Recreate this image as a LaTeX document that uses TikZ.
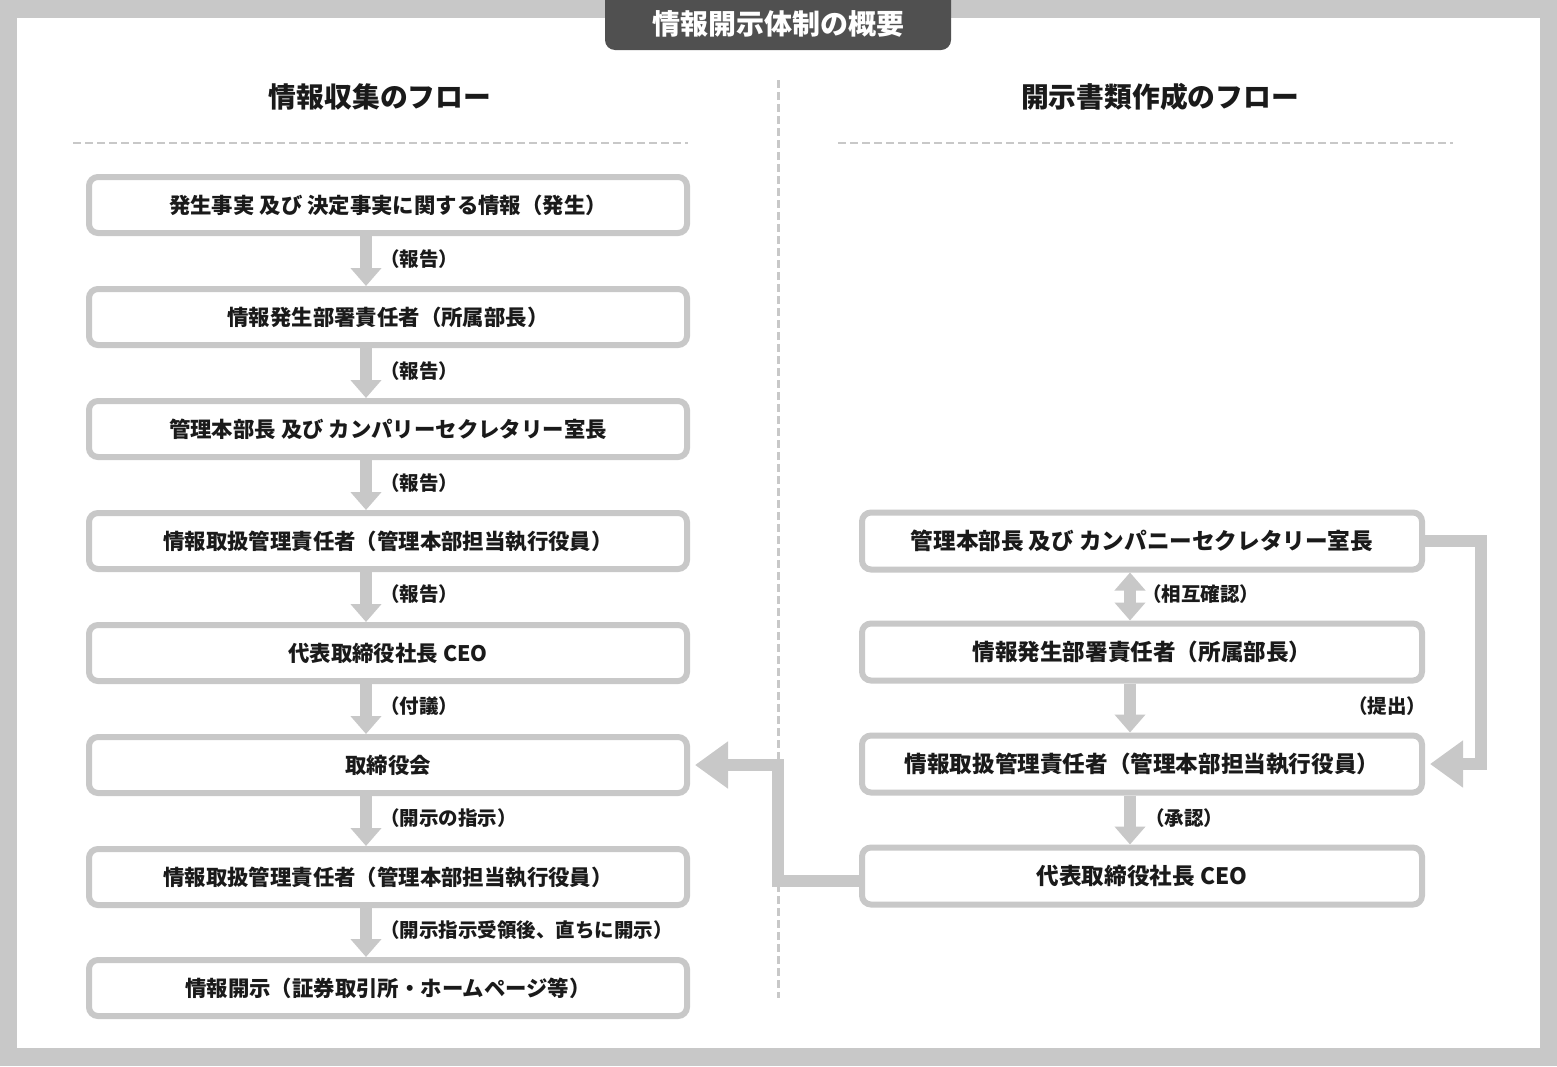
\documentclass[tikz,border=0pt]{standalone}
\usepackage{fontspec}
\setmainfont{Noto Sans CJK JP}
\usetikzlibrary{arrows.meta}
\definecolor{frame}{HTML}{C8C8C8}
\definecolor{tabc}{HTML}{505050}
\definecolor{ink}{HTML}{1A1A1A}
\tikzset{
  lbox/.style={draw=frame, line width=6pt, rounded corners=9pt, fill=white,
    minimum width=598pt, minimum height=56pt, inner sep=0pt, text=ink,
    font=\bfseries\fontsize{21.4}{25}\selectfont},
  rbox/.style={lbox, minimum width=560pt, minimum height=57pt,
    font=\bfseries\fontsize{22.6}{26}\selectfont},
  lbl/.style={anchor=west, inner sep=0pt, text=ink, font=\bfseries\fontsize{19.5}{22}\selectfont},
  heading/.style={inner sep=0pt, text=ink, font=\bfseries\fontsize{27.8}{32}\selectfont},
  dnarrow/.style={draw=frame, line width=12pt, -{Triangle[width=30pt,length=18pt]}},
  dblarrow/.style={draw=frame, line width=12pt, {Triangle[width=30pt,length=18pt]}-{Triangle[width=30pt,length=18pt]}},
  bigarrow/.style={draw=frame, line width=12pt, -{Triangle[width=45pt,length=33pt]}, shorten >=5pt},
  dashline/.style={draw=frame, line width=2.5pt, dash pattern=on 8pt off 4pt},
}
\begin{document}
\begin{tikzpicture}[x=1pt,y=-1pt]
\useasboundingbox (0,0) rectangle (1557,1066);
\fill[frame] (0,0) rectangle (1557,1066);
\fill[white] (17,18) rectangle (1540,1048);
% title tab
\begin{scope}
\clip (0,0) rectangle (1557,1066);
\fill[tabc, rounded corners=10pt] (605,-20) rectangle (951,50);
\end{scope}
\node[inner sep=0pt, text=white, font=\bfseries\fontsize{28}{32}\selectfont] (title) at (778,24) {情報開示体制の概要};
% headings
\node[heading] (hl) at (380,97) {情報収集のフロー};
\node[heading] (hr) at (1160,97) {開示書類作成のフロー};
% dashed lines
\coordinate (dl1) at (73,143); \coordinate (dl2) at (688,143);
\coordinate (dr1) at (838,143); \coordinate (dr2) at (1453,143);
\coordinate (dv1) at (778,80); \coordinate (dv2) at (778,998);
\draw[dashline] (dl1) -- (dl2);
\draw[dashline] (dr1) -- (dr2);
\draw[dashline, line width=3pt] (dv1) -- (dv2);
% left boxes
\node[lbox] (L1) at (388,205) {発生事実 及び 決定事実に関する情報（発生）};
\node[lbox] (L2) at (388,317) {情報発生部署責任者（所属部長）};
\node[lbox] (L3) at (388,429) {管理本部長 及び カンパリーセクレタリー室長};
\node[lbox] (L4) at (388,541) {情報取扱管理責任者（管理本部担当執行役員）};
\node[lbox] (L5) at (388,653) {代表取締役社長 CEO};
\node[lbox] (L6) at (388,765) {取締役会};
\node[lbox] (L7) at (388,877) {情報取扱管理責任者（管理本部担当執行役員）};
\node[lbox] (L8) at (388,988) {情報開示（証券取引所・ホームページ等）};
% right boxes
\node[rbox] (R1) at (1142,541) {管理本部長 及び カンパニーセクレタリー室長};
\node[rbox] (R2) at (1142,652) {情報発生部署責任者（所属部長）};
\node[rbox] (R3) at (1142,764) {情報取扱管理責任者（管理本部担当執行役員）};
\node[rbox] (R4) at (1142,876) {代表取締役社長 CEO};
% arrow axes
\coordinate (ax) at (366,0);
\coordinate (bx) at (1130,0);
\coordinate (cx) at (778,0);
\coordinate (rx) at (1481,0);
% left arrows
\draw[dnarrow] (L1.south -| ax) -- (L2.north -| ax);
\draw[dnarrow] (L2.south -| ax) -- (L3.north -| ax);
\draw[dnarrow] (L3.south -| ax) -- (L4.north -| ax);
\draw[dnarrow] (L4.south -| ax) -- (L5.north -| ax);
\draw[dnarrow] (L5.south -| ax) -- (L6.north -| ax);
\draw[dnarrow] (L6.south -| ax) -- (L7.north -| ax);
\draw[dnarrow] (L7.south -| ax) -- (L8.north -| ax);
% left labels
\node[lbl] (t1) at (380,259) {（報告）};
\node[lbl] (t2) at (380,371) {（報告）};
\node[lbl] (t3) at (380,483) {（報告）};
\node[lbl] (t4) at (380,594) {（報告）};
\node[lbl] (t5) at (380,706) {（付議）};
\node[lbl] (t6) at (380,818) {（開示の指示）};
\node[lbl] (t7) at (380,930) {（開示指示受領後、直ちに開示）};
% right arrows
\draw[dblarrow] (R1.south -| bx) -- (R2.north -| bx);
\draw[dnarrow] (R2.south -| bx) -- (R3.north -| bx);
\draw[dnarrow] (R3.south -| bx) -- (R4.north -| bx);
\node[lbl] (u1) at (1142,594) {（相互確認）};
\node[lbl] (u2) at (1348,706) {（提出）};
\node[lbl] (u3) at (1145,818) {（承認）};
% loop connectors
\draw[bigarrow] (R1.east) -| (R3.east -| rx) -- (R3.east);
\draw[bigarrow] ([yshift=-5pt]R4.west) -| (L6.east -| cx) -- (L6.east);
\end{tikzpicture}
\end{document}
